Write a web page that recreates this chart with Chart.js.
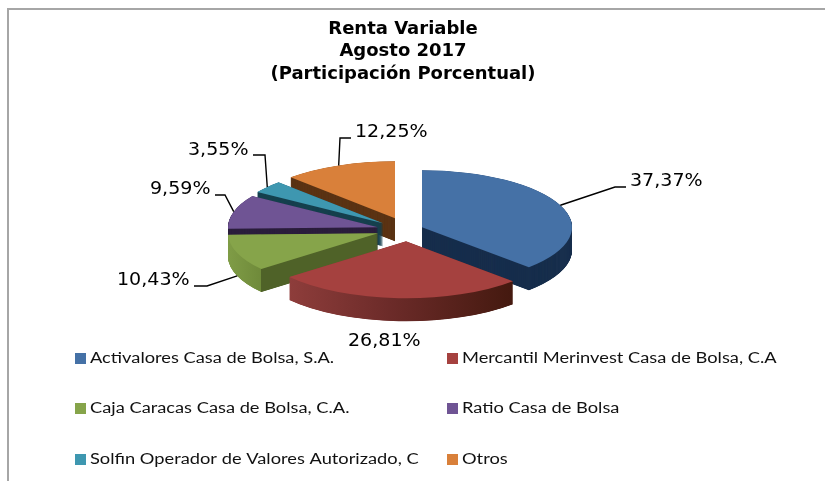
<!DOCTYPE html>
<html><head><meta charset="utf-8">
<style>html,body{margin:0;padding:0;background:#fff}canvas{display:block}</style>
<script src="https://cdn.jsdelivr.net/npm/chart.js@4"></script></head>
<body><canvas id="c" width="825" height="481"></canvas>
<script>
const categories=["Activalores Casa de Bolsa, S.A.","Mercantil Merinvest Casa de Bolsa, C.A","Caja Caracas Casa de Bolsa, C.A.","Ratio Casa de Bolsa","Solfin Operador de Valores Autorizado, C","Otros"];
const shares=[37.37,26.81,10.43,9.59,3.55,12.25];
const titleLines=["Renta Variable","Agosto 2017","(Participación Porcentual)"];
const topColors=["#4571a6","#a5413f","#86a44a","#6f5494","#3e97b0","#d9803a"];
const sideColors=["#182f4d","#4f6228","#4f6228","#2c1f3d","#17414f","#5c3415"];
// 3D look
const radiusX=150, squash=0.38, depth=23;
const paintOrder=[5,4,3,2,0,1];
const explode=[[19,-2],[3,12],[-25,4],[-25,-2],[-20,-6],[-8,-11]];
const labelAt=[[630,182,626,187],[348,342,null,null],[117,281,194,286],[150,190,215,195],[188,151,253,155],[355,133,351,138]];
const elbows=[[615,187],null,[207,286],[225,195],[265,155],[340,138]];
const rimOnBottom=[false,false,true,false,false,false];
const legendCols=[75,447], legendRows=[358,408,459];

function pct(v){return v.toFixed(2).replace('.',',')+'%';}
function stretched(ctx,t,x,y,k){ctx.save();ctx.translate(x,y);ctx.scale(k,1);ctx.fillText(t,0,0);ctx.restore();}
function rimFill(ctx,i,el){
  if(i===1){const g=ctx.createLinearGradient(el.x-117,0,el.x+107,0);
    g.addColorStop(0,"#8e3d3b");g.addColorStop(.45,"#6c2b29");g.addColorStop(1,"#44190f");return g;}
  if(i===2){const tip=(Math.cos(el.startAngle)*radiusX);
    const g=ctx.createLinearGradient(el.x-radiusX,0,el.x+tip+.01+radiusX,0);
    const f=(tip+radiusX)/(tip+2*radiusX);
    g.addColorStop(0,"#7f9c46");g.addColorStop(f,"#6f8a3a");g.addColorStop(f,sideColors[2]);g.addColorStop(1,sideColors[2]);return g;}
  return sideColors[i];
}
const pie3d={id:'pie3d',
  beforeDraw(chart){const c=chart.ctx;c.save();c.fillStyle="#fff";c.fillRect(0,0,825,481);
    c.strokeStyle="#a6a6a6";c.lineWidth=2;c.beginPath();c.moveTo(8,481);c.lineTo(8,9);c.lineTo(825,9);c.stroke();c.restore();},
  beforeDatasetsDraw(chart){
    const ctx=chart.ctx,arcs=chart.getDatasetMeta(0).data;
    paintOrder.forEach(i=>{
      const el=arcs[i],base=el.options;
      const place=d=>{ctx.save();ctx.translate(el.x+explode[i][0],el.y+explode[i][1]+d);ctx.scale(radiusX/el.outerRadius,squash);ctx.translate(-el.x,-el.y);};
      place(0);const fill=rimFill(ctx,i,el);ctx.restore();
      el.options=Object.assign(Object.create(base),{backgroundColor:fill,borderWidth:0});
      for(let d=depth;d>=0.25;d-=0.25){place(d);el.draw(ctx);ctx.restore();}
      el.options=Object.assign(Object.create(base),{borderWidth:0});
      place(0);el.draw(ctx);ctx.restore();
      el.options=base;
    });
    return false;
  },
  afterDraw(chart){
    const ctx=chart.ctx,arcs=chart.getDatasetMeta(0).data;
    ctx.save();
    // leaders
    ctx.strokeStyle="#000";ctx.lineWidth=1.4;
    arcs.forEach((el,i)=>{
      if(!elbows[i])return;
      const mid=(el.startAngle+el.endAngle)/2;
      const px=el.x+explode[i][0]+Math.cos(mid)*radiusX;
      const py=el.y+explode[i][1]+Math.sin(mid)*radiusX*squash+(rimOnBottom[i]?depth:0);
      ctx.beginPath();ctx.moveTo(px,py);ctx.lineTo(elbows[i][0],elbows[i][1]);ctx.lineTo(labelAt[i][2],labelAt[i][3]);ctx.stroke();
    });
    // value labels
    ctx.fillStyle="#000";ctx.textBaseline="middle";ctx.textAlign="left";ctx.font='17px "DejaVu Sans"';
    shares.forEach((v,i)=>stretched(ctx,pct(v),labelAt[i][0],labelAt[i][1],1.12));
    // legend
    ctx.font='14.5px Lato';
    categories.forEach((t,i)=>{
      const x=legendCols[i%2],y=legendRows[Math.floor(i/2)];
      ctx.fillStyle=topColors[i];ctx.fillRect(x,y-5,11,11);
      ctx.fillStyle="#111";stretched(ctx,t,x+15,y+.5,1.26);
    });
    ctx.restore();
  }
};
new Chart(document.getElementById('c'),{
  type:'pie',
  data:{labels:categories,datasets:[{data:shares,backgroundColor:topColors,borderWidth:0,radius:150}]},
  options:{responsive:false,animation:false,
    layout:{padding:{left:0,right:19,top:0,bottom:108}},
    plugins:{legend:{display:false},tooltip:{enabled:false},
      title:{display:true,text:titleLines,color:"#000",font:{family:'"DejaVu Sans"',size:18,weight:'bold',lineHeight:1.25},padding:{top:18,bottom:0}}}
  },
  plugins:[pie3d]
});
</script></body></html>
